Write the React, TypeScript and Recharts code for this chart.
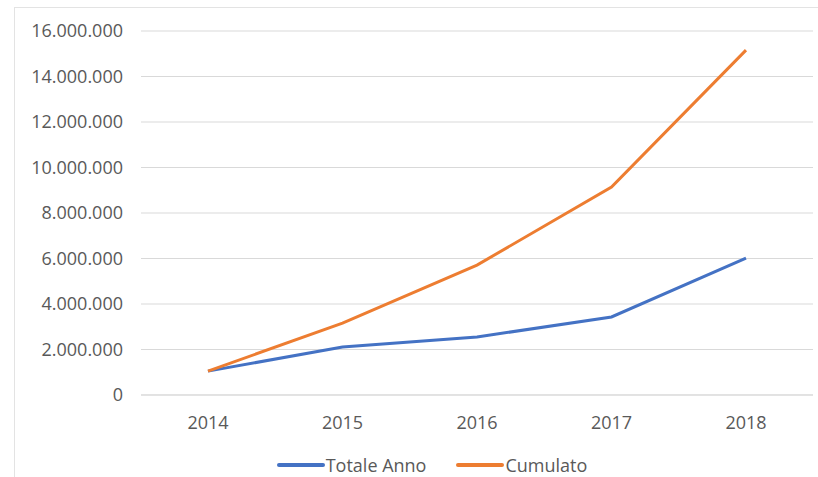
import { LineChart, Line, XAxis, YAxis, CartesianGrid, Legend } from "recharts";

const years = ["2014", "2015", "2016", "2017", "2018"];
const totaleAnno = [1050000, 2110000, 2550000, 3430000, 6020000];
const cumulato = [1050000, 3160000, 5710000, 9140000, 15160000];
const yTicks = [0, 2000000, 4000000, 6000000, 8000000, 10000000, 12000000, 14000000, 16000000];

const series = [
  { key: "totale", name: "Totale Anno", color: "#4472C4" },
  { key: "cumulato", name: "Cumulato", color: "#ED7D31" },
];

const data = years.map((year, i) => ({
  year,
  totale: totaleAnno[i],
  cumulato: cumulato[i],
}));

// 16000000 -> "16.000.000"
const fmt = (v: number) => v.toString().replace(/\B(?=(\d{3})+(?!\d))/g, ".");

// keep legend in series order (recharts sorts by name otherwise)
const LegendContent = () => (
  <div
    style={{
      display: "flex",
      justifyContent: "center",
      alignItems: "center",
      gap: 30,
      height: 22,
      paddingLeft: 46,
      fontSize: 18,
      color: "#595959",
    }}
  >
    {series.map((s) => (
      <div key={s.key} style={{ display: "flex", alignItems: "center" }}>
        <svg width={48} height={6} style={{ marginRight: 1 }}>
          <line x1={2} y1={3} x2={46} y2={3} stroke={s.color} strokeWidth={4} strokeLinecap="round" />
        </svg>
        <span>{s.name}</span>
      </div>
    ))}
  </div>
);

const App = () => {
  return (
    <div
      style={{
        position: "absolute",
        left: 0,
        top: 0,
        width: 818,
        height: 477,
        background: "#fff",
        fontFamily: "'Open Sans', sans-serif",
      }}
    >
      {/* faint frame, only top and left edges show in the source */}
      <div
        style={{
          position: "absolute",
          left: 14,
          top: 7,
          width: 804,
          height: 470,
          borderTop: "1px solid #e3e3e3",
          borderLeft: "1px solid #e3e3e3",
        }}
      />
      <LineChart
        width={818}
        height={477}
        data={data}
        margin={{ top: 31, right: 5, bottom: 0, left: 0 }}
        style={{ position: "absolute", left: 0, top: 0 }}
      >
        <CartesianGrid vertical={false} stroke="#d9d9d9" strokeWidth={1} />
        <XAxis
          dataKey="year"
          padding={{ left: 67, right: 67 }}
          axisLine={{ stroke: "#d9d9d9" }}
          tickLine={false}
          tick={{ fill: "#595959", fontSize: 18 }}
          tickMargin={15}
          height={60}
        />
        <YAxis
          domain={[0, 16000000]}
          ticks={yTicks}
          tickFormatter={fmt}
          axisLine={false}
          tickLine={false}
          tick={{ fill: "#595959", fontSize: 18 }}
          tickMargin={12}
          width={141}
        />
        <Legend
          verticalAlign="bottom"
          content={LegendContent}
          wrapperStyle={{ bottom: 1, left: 0, width: 818 }}
        />
        {series.map((s) => (
          <Line
            key={s.key}
            name={s.name}
            dataKey={s.key}
            stroke={s.color}
            strokeWidth={3}
            dot={false}
            isAnimationActive={false}
          />
        ))}
      </LineChart>
    </div>
  );
};

export default App;
